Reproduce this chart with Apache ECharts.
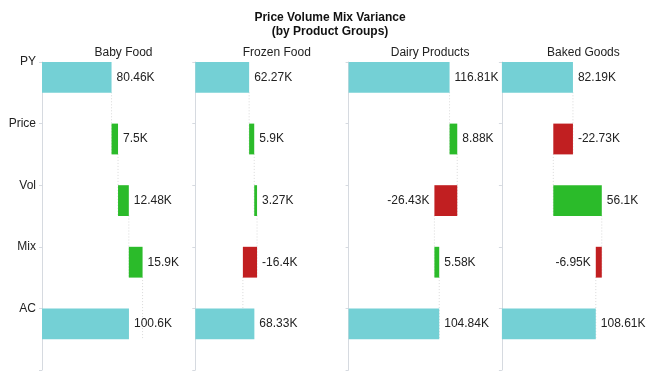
<!DOCTYPE html>
<html>
<head>
<meta charset="utf-8">
<script src="https://cdn.jsdelivr.net/npm/echarts@6/dist/echarts.min.js"></script>
<style>html,body{margin:0;padding:0;background:#fff}#c{width:660px;height:380px}</style>
</head>
<body>
<div id="c"></div>
<script>
const categories = ['PY', 'Price', 'Vol', 'Mix', 'AC'];
const groups = ['Baby Food', 'Frozen Food', 'Dairy Products', 'Baked Goods'];
const pyValues = [80.46, 62.27, 116.81, 82.19];
const priceValues = [7.5, 5.9, 8.88, -22.73];
const volValues = [12.48, 3.27, -26.43, 56.1];
const mixValues = [15.9, -16.4, 5.58, -6.95];
const acValues = [100.6, 68.33, 104.84, 108.61];

const TEAL = '#74d0d5', GREEN = '#2bbb2a', RED = '#c11f21';
const FONT = 'Liberation Sans, Arial, sans-serif';
const chart = echarts.init(document.getElementById('c'), null, {renderer: 'canvas'});

const gridLeft0 = 42, gridStep = 153.3, gridW = 153, gridTop = 62, gridBottom = 10;
const xMax = 177;

const grids = [], xAxes = [], yAxes = [], series = [], titles = [];
titles.push({
  text: 'Price Volume Mix Variance\n(by Product Groups)',
  left: 'center', top: 6,
  textStyle: {fontFamily: FONT, fontSize: 12, fontWeight: 'bold', color: '#111', lineHeight: 14}
});

groups.forEach((g, gi) => {
  const left = gridLeft0 + gi * gridStep;
  grids.push({left: left, width: gridW, top: gridTop, bottom: gridBottom, containLabel: false});
  titles.push({
    text: g, left: left + gridW / 2, top: 42, textAlign: 'center',
    textStyle: {fontFamily: FONT, fontSize: 12, fontWeight: 'normal', color: '#222'}
  });
  xAxes.push({type: 'value', gridIndex: gi, min: 0, max: xMax, show: false});
  // axis used by the bars
  yAxes.push({
    type: 'category', gridIndex: gi, data: categories, inverse: true, position: 'left',
    axisLine: {show: false}, axisTick: {show: false}, axisLabel: {show: false}, splitLine: {show: false}
  });
  // axis showing labels at band boundaries
  yAxes.push({
    type: 'category', gridIndex: gi, data: categories.concat(['']), inverse: true, position: 'left',
    boundaryGap: false,
    axisLine: {show: true, lineStyle: {color: '#d6dae0', width: 1}},
    axisTick: {show: true, length: 3, lineStyle: {color: '#d6dae0'}},
    axisLabel: {show: gi === 0, fontFamily: FONT, fontSize: 12, color: '#222', margin: 6},
    splitLine: {show: false}
  });
  const yi = gi * 2;

  const deltas = [pyValues[gi], priceValues[gi], volValues[gi], mixValues[gi], acValues[gi]];
  const starts = [], ends = [];
  let cum = 0;
  for (let i = 0; i < 5; i++) {
    if (i === 0) { starts.push(0); ends.push(deltas[0]); cum = deltas[0]; }
    else if (i === 4) { starts.push(0); ends.push(deltas[4]); }
    else { starts.push(cum); cum += deltas[i]; ends.push(cum); }
  }
  const baseData = starts.map((s, i) => Math.min(s, ends[i]));
  const barData = deltas.map((d, i) => {
    const isTotal = (i === 0 || i === 4);
    const color = isTotal ? TEAL : (d >= 0 ? GREEN : RED);
    const hi = Math.max(starts[i], ends[i]);
    const item = {value: Math.abs(ends[i] - starts[i]), itemStyle: {color: color}, raw: d};
    if (!isTotal && d < 0 && hi > 100) item.label = {position: 'left'};
    return item;
  });

  series.push({
    type: 'bar', xAxisIndex: gi, yAxisIndex: yi, stack: 's' + gi,
    data: baseData, itemStyle: {color: 'rgba(0,0,0,0)'}, barWidth: '50%', barGap: '0%',
    silent: true, label: {show: false}
  });
  series.push({
    type: 'bar', xAxisIndex: gi, yAxisIndex: yi, stack: 's' + gi,
    data: barData, barWidth: '50%', barGap: '0%',
    label: {
      show: true, position: 'right', distance: 5, fontFamily: FONT, fontSize: 12, color: '#222',
      formatter: p => String(p.data.raw) + 'K'
    }
  });
  series.push({
    type: 'bar', xAxisIndex: gi, yAxisIndex: yi,
    data: [null, null, null, null, null], barWidth: '50%', barGap: '0%'
  });
  // connectors
  const connData = [];
  for (let i = 0; i < 4; i++) connData.push([ends[i], i]);
  series.push({
    type: 'custom', xAxisIndex: gi, yAxisIndex: yi, silent: true, z: 1,
    data: connData,
    renderItem: (params, api) => {
      const x = api.coord([api.value(0), api.value(1)])[0];
      const y1 = api.coord([0, api.value(1)])[1];
      const y2 = api.coord([0, api.value(1) + 1])[1];
      return {
        type: 'line',
        shape: {x1: x, y1: y1 - 0.5, x2: x, y2: y2},
        style: {stroke: '#d9d9d9', lineWidth: 1, lineDash: [1, 2]}
      };
    }
  });
});

chart.setOption({
  animation: false,
  backgroundColor: '#fff',
  title: titles,
  grid: grids,
  xAxis: xAxes,
  yAxis: yAxes,
  series: series
});
</script>
</body>
</html>
